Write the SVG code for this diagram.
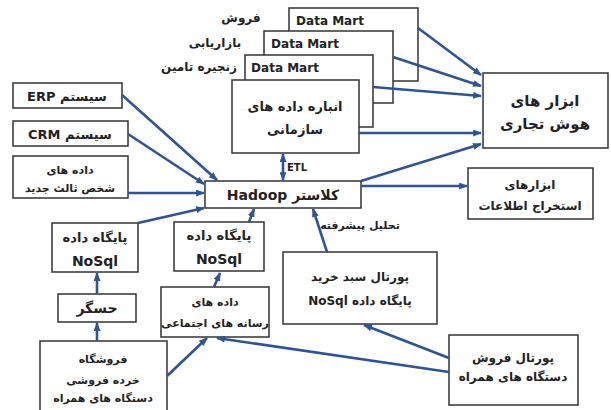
<svg xmlns="http://www.w3.org/2000/svg" width="611" height="410" viewBox="0 0 611 410">
<defs>
<marker id="ah" viewBox="0 0 10 8" refX="9" refY="4" markerWidth="9" markerHeight="7" markerUnits="userSpaceOnUse" orient="auto-start-reverse">
<path d="M0,0 L10,4 L0,8 Z" fill="#2E5496"/>
</marker>
<style>
.box{fill:#fff;stroke:#333;stroke-width:1.5}
.t{font-family:"DejaVu Sans","Noto Sans",sans-serif;font-weight:bold;fill:#222;text-anchor:middle}
.ar{direction:rtl}
.c{fill:none;stroke:#2E5496;stroke-width:2.6;marker-end:url(#ah)}
</style>
</defs>
<rect width="611" height="410" fill="#fff"/>

<g id="labels">
<text class="t ar" x="241" y="22" font-size="12">فروش</text>
<text class="t ar" x="215" y="47" font-size="12">بازاریابی</text>
<text class="t ar" x="199" y="71" font-size="12">زنجیره تامین</text>
<text class="t" x="297" y="171" font-size="10">ETL</text>
<text class="t ar" x="360" y="229" font-size="11" font-weight="normal">تحلیل پیشرفته</text>
</g>

<g id="dm3"><rect class="box" x="289" y="8" width="129" height="73"/><text class="t" x="330" y="25" font-size="12">Data Mart</text></g>
<g id="dm2"><rect class="box" x="264" y="31" width="129" height="72"/><text class="t" x="305" y="48" font-size="12">Data Mart</text></g>
<g id="dm1"><rect class="box" x="245" y="55" width="128" height="72"/><text class="t" x="285" y="72" font-size="12">Data Mart</text></g>
<g id="warehouse"><rect class="box" x="232" y="80" width="127" height="73"/>
<text class="t ar" x="295" y="111" font-size="13">انباره داده های</text>
<text class="t ar" x="295" y="134" font-size="13">سازمانی</text></g>

<g id="bi"><rect class="box" x="483" y="73" width="125" height="75"/>
<text class="t ar" x="545" y="106" font-size="15">ابزار های</text>
<text class="t ar" x="545" y="129" font-size="15">هوش تجاری</text></g>

<g id="erp"><rect class="box" x="13" y="83" width="109" height="25"/>
<text class="t ar" x="67" y="101" font-size="13">سیستم ERP</text></g>
<g id="crm"><rect class="box" x="13" y="121" width="115" height="25"/>
<text class="t ar" x="70" y="139" font-size="13">سیستم  CRM</text></g>
<g id="third"><rect class="box" x="13" y="156" width="115" height="42"/>
<text class="t ar" x="70" y="174" font-size="11">داده های</text>
<text class="t ar" x="70" y="192" font-size="11">شخص ثالث جدید</text></g>

<g id="hadoop"><rect class="box" x="205" y="181" width="156" height="27"/>
<text class="t ar" x="283" y="200" font-size="14">کلاستر Hadoop</text></g>

<g id="info"><rect class="box" x="468" y="168" width="125" height="51"/>
<text class="t ar" x="530" y="189" font-size="12">ابزارهای</text>
<text class="t ar" x="530" y="210" font-size="12">استخراج اطلاعات</text></g>

<g id="nosql1"><rect class="box" x="52" y="223" width="86" height="49"/>
<text class="t ar" x="95" y="242" font-size="13">پایگاه داده</text>
<text class="t" x="95" y="266" font-size="14">NoSql</text></g>
<g id="nosql2"><rect class="box" x="174" y="222" width="90" height="49"/>
<text class="t ar" x="219" y="240" font-size="13">پایگاه داده</text>
<text class="t" x="219" y="264" font-size="14">NoSql</text></g>

<g id="sensor"><rect class="box" x="58" y="294" width="78" height="28"/>
<text class="t ar" x="97" y="313" font-size="14">حسگر</text></g>

<g id="social"><rect class="box" x="161" y="287" width="108" height="50"/>
<text class="t ar" x="215" y="306" font-size="11">داده های</text>
<text class="t ar" x="215" y="327" font-size="11">رسانه های اجتماعی</text></g>

<g id="retail"><rect class="box" x="40" y="341" width="127" height="75"/>
<text class="t ar" x="103" y="363" font-size="11">فروشگاه</text>
<text class="t ar" x="103" y="384" font-size="11">خرده فروشی</text>
<text class="t ar" x="103" y="402" font-size="11">دستگاه های همراه</text></g>

<g id="basket"><rect class="box" x="283" y="252" width="154" height="72"/>
<text class="t ar" x="360" y="281" font-size="12">پورتال سبد خرید</text>
<text class="t ar" x="360" y="305" font-size="12">پایگاه داده NoSql</text></g>

<g id="mobile"><rect class="box" x="449" y="335" width="129" height="70"/>
<text class="t ar" x="513" y="362" font-size="12">پورتال فروش</text>
<text class="t ar" x="513" y="381" font-size="12">دستگاه های همراه</text></g>

<g id="connectors">
<line class="c" x1="418" y1="28" x2="481" y2="75"/>
<line class="c" x1="393" y1="57" x2="481" y2="86"/>
<line class="c" x1="373" y1="87" x2="481" y2="96"/>
<line class="c" x1="359" y1="133" x2="481" y2="133"/>
<line class="c" x1="361" y1="181" x2="481" y2="144"/>
<line class="c" x1="122" y1="95" x2="217" y2="180"/>
<line class="c" x1="128" y1="134" x2="204" y2="184"/>
<line class="c" x1="128" y1="193" x2="204" y2="193"/>
<line class="c" x1="138" y1="223" x2="204" y2="208"/>
<line class="c" x1="249" y1="222" x2="254" y2="209"/>
<line class="c" x1="327" y1="252" x2="313" y2="209"/>
<line class="c" x1="361" y1="186" x2="467" y2="186"/>
<line class="c" x1="283" y1="154" x2="283" y2="180" style="marker-start:url(#ah)"/>
<line class="c" x1="97" y1="294" x2="97" y2="273"/>
<line class="c" x1="97" y1="341" x2="97" y2="323"/>
<line class="c" x1="214" y1="287" x2="220" y2="273"/>
<line class="c" x1="167" y1="376" x2="207" y2="338"/>
<line class="c" x1="449" y1="372" x2="217" y2="338"/>
<line class="c" x1="449" y1="358" x2="364" y2="325"/>
</g>
</svg>
